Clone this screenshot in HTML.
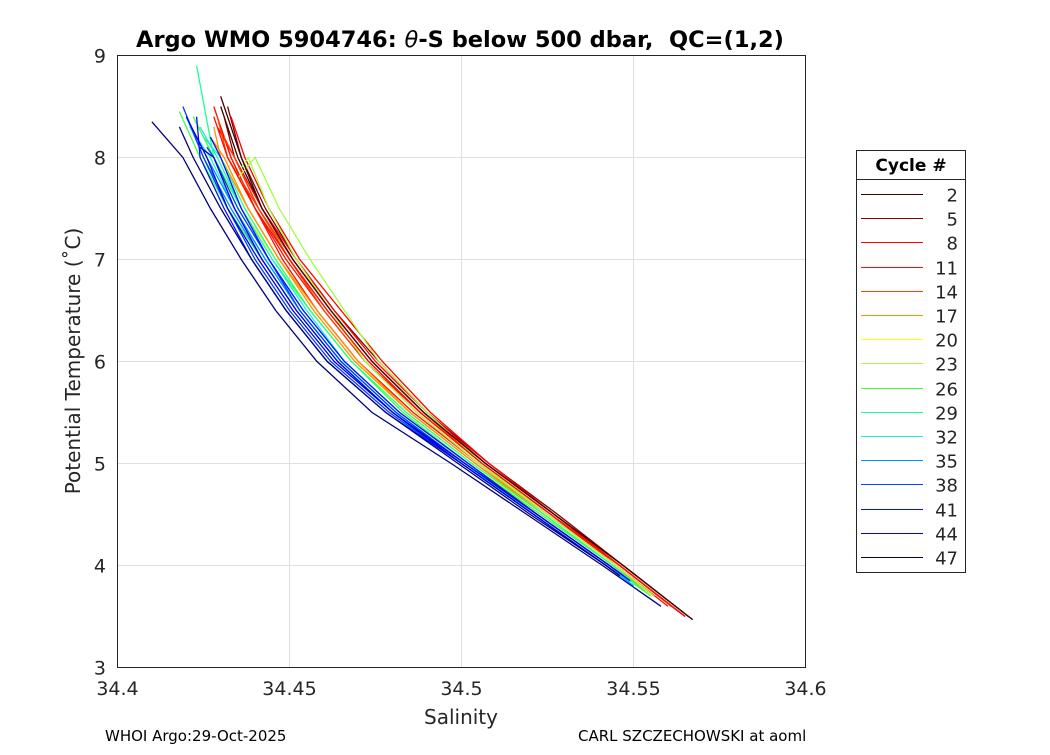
<!DOCTYPE html>
<html><head><meta charset="utf-8"><style>
body{margin:0;background:#fff;font-family:"Liberation Sans","DejaVu Sans",sans-serif;}
svg text{font-family:"DejaVu Sans","Liberation Sans",sans-serif;}
</style></head><body>
<svg id="chart" width="1050" height="750" viewBox="0 0 1050 750">
<rect width="1050" height="750" fill="#fff"/>
<g id="grid"></g>
<g id="lines"></g>
<rect x="117.5" y="55.5" width="688" height="612" fill="none" stroke="#262626" stroke-width="1"/>
<g id="axes"></g>
<text x="460" y="47" text-anchor="middle" font-size="22.5" font-weight="bold">Argo WMO 5904746: <tspan font-style="italic" font-weight="normal">θ</tspan>-S below 500 dbar, &#160;QC=(1,2)</text>
<text x="461" y="724" text-anchor="middle" font-size="20" fill="#262626">Salinity</text>
<text transform="translate(80,361) rotate(-90)" text-anchor="middle" font-size="20" fill="#262626">Potential Temperature (˚C)</text>
<text x="105" y="741" font-size="15">WHOI Argo:29-Oct-2025</text>
<text x="578" y="741" font-size="15">CARL SZCZECHOWSKI at aoml</text>
<g id="legend"></g>
</svg>
<script>
const xTicks=[34.4,34.45,34.5,34.55,34.6];
const xTickLabels=["34.4","34.45","34.5","34.55","34.6"];
const yTicks=[3,4,5,6,7,8,9];
const legendCycles=[2,5,8,11,14,17,20,23,26,29,32,35,38,41,44,47];
const legendColors=["#400000","#800000","#ff0000","#ff1000","#ff4000","#ff9000","#ffff00","#a0ff40","#40ff40","#20ff90","#20e8e8","#0090ff","#0040ff","#0010ff","#0000e0","#000080"];
const levels=[3.5,4,4.5,5,5.5,6,6.5,7,7.5,8];
const profileCycles=[2,4,5,7,8,10,11,13,14,16,17,20,22,23,25,26,28,29,31,32,34,35,37,38,40,41,43,44,46,47,3,12];
const profileSal=[
[34.566,34.547,34.527,34.507,34.489,34.474,34.462,34.451,34.442,34.435],
[34.565,34.546,34.526,34.506,34.488,34.473,34.461,34.450,34.441,34.434],
[34.566,34.547,34.528,34.508,34.490,34.476,34.463,34.452,34.443,34.436],
[34.565,34.546,34.527,34.507,34.490,34.475,34.463,34.452,34.442,34.434],
[34.565,34.546,34.527,34.508,34.491,34.477,34.465,34.453,34.444,34.437],
[34.564,34.545,34.526,34.506,34.488,34.472,34.460,34.449,34.440,34.433],
[34.565,34.546,34.525,34.505,34.486,34.470,34.458,34.448,34.440,34.433],
[34.564,34.545,34.525,34.505,34.487,34.472,34.460,34.450,34.441,34.434],
[34.565,34.546,34.526,34.506,34.489,34.474,34.462,34.451,34.441,34.432],
[34.564,34.545,34.525,34.504,34.485,34.469,34.457,34.447,34.438,34.431],
[34.564,34.544,34.524,34.504,34.485,34.470,34.458,34.447,34.438,34.430],
[34.563,34.544,34.523,34.503,34.484,34.468,34.456,34.446,34.436,34.428],
[34.564,34.545,34.525,34.505,34.487,34.472,34.462,34.452,34.444,34.438],
[34.564,34.545,34.525,34.506,34.490,34.476,34.466,34.456,34.447,34.440],
[34.563,34.544,34.523,34.502,34.483,34.468,34.456,34.445,34.436,34.428],
[34.563,34.543,34.522,34.501,34.480,34.464,34.452,34.442,34.432,34.424],
[34.563,34.544,34.524,34.503,34.484,34.468,34.456,34.446,34.437,34.430],
[34.563,34.543,34.522,34.502,34.482,34.466,34.454,34.444,34.435,34.428],
[34.562,34.543,34.522,34.502,34.482,34.466,34.455,34.445,34.436,34.429],
[34.562,34.542,34.521,34.501,34.481,34.465,34.453,34.443,34.434,34.427],
[34.563,34.543,34.522,34.501,34.481,34.465,34.453,34.443,34.434,34.426],
[34.562,34.542,34.521,34.500,34.480,34.464,34.452,34.442,34.433,34.425],
[34.563,34.543,34.522,34.501,34.481,34.465,34.453,34.444,34.435,34.428],
[34.562,34.542,34.521,34.500,34.479,34.462,34.450,34.440,34.432,34.425],
[34.563,34.543,34.522,34.502,34.482,34.466,34.454,34.444,34.436,34.430],
[34.562,34.542,34.521,34.500,34.478,34.461,34.449,34.439,34.431,34.424],
[34.563,34.543,34.522,34.501,34.480,34.464,34.452,34.442,34.434,34.428],
[34.562,34.542,34.521,34.500,34.480,34.463,34.451,34.441,34.432,34.426],
[34.562,34.542,34.520,34.499,34.478,34.461,34.449,34.439,34.430,34.422],
[34.562,34.541,34.519,34.497,34.474,34.458,34.446,34.436,34.427,34.419],
[34.566,34.547,34.527,34.507,34.489,34.474,34.462,34.451,34.442,34.436],
[34.565,34.546,34.526,34.506,34.488,34.473,34.461,34.450,34.440,34.432]];
const profileTopSal=[34.430,34.431,34.432,34.429,34.433,34.430,34.428,34.431,34.429,34.427,34.428,34.424,34.436,34.435,34.422,34.418,34.425,34.423,34.424,34.421,34.423,34.420,34.426,34.419,34.427,34.423,34.424,34.420,34.418,34.410,34.430,34.428];
const profileTopT=[8.5,8.4,8.5,8.3,8.4,8.3,8.5,8.2,8.4,8.2,8.3,8.0,7.9,7.8,8.4,8.45,8.2,8.9,8.3,8.3,8.2,8.4,8.1,8.5,8.2,8.4,8.1,8.4,8.3,8.35,8.6,8.4];
const profileBottomT=[3.47,3.5,3.5,3.6,3.5,3.6,3.55,3.7,3.6,3.7,3.7,3.7,3.75,3.7,3.7,3.75,3.8,3.8,3.8,3.8,3.85,3.8,3.85,3.9,3.85,3.9,3.9,3.9,3.9,3.6,3.47,3.55];

const X=s=>117.5+(s-34.4)/0.2*688;
const Y=t=>55.5+(9-t)/6*612;
const NS="http://www.w3.org/2000/svg";
function colorFor(c){let best=0;legendCycles.forEach((lc,i)=>{if(Math.abs(lc-c)<Math.abs(legendCycles[best]-c))best=i;});return legendColors[best];}
const grid=document.getElementById('grid'),axes=document.getElementById('axes');
xTicks.forEach((t,i)=>{
 const l=document.createElementNS(NS,'line');l.setAttribute('x1',X(t));l.setAttribute('x2',X(t));l.setAttribute('y1',55);l.setAttribute('y2',667);l.setAttribute('stroke','#dfdfdf');
 
 
 grid.appendChild(l);
 const tx=document.createElementNS(NS,'text');tx.setAttribute('x',X(t));tx.setAttribute('y',695);tx.setAttribute('text-anchor','middle');tx.setAttribute('font-size','19');tx.setAttribute('fill','#262626');tx.textContent=xTickLabels[i];
 
 
 axes.appendChild(tx);
});
yTicks.forEach(t=>{
 const l=document.createElementNS(NS,'line');l.setAttribute('x1',117);l.setAttribute('x2',805);l.setAttribute('y1',Y(t));l.setAttribute('y2',Y(t));l.setAttribute('stroke','#dfdfdf');
 
 
 grid.appendChild(l);
 const tx=document.createElementNS(NS,'text');tx.setAttribute('x',106);tx.setAttribute('y',Y(t)+7);tx.setAttribute('text-anchor','end');tx.setAttribute('font-size','19');tx.setAttribute('fill','#262626');tx.textContent=t;
 
 
 axes.appendChild(tx);
});
const lines=document.getElementById('lines');
profileSal.forEach((sal,i)=>{
 const pts=[];
 const bt=profileBottomT[i];
 pts.push([sal[0]+(3.5-bt)*0.04,bt]);
 levels.forEach((lv,k)=>{if(lv>=bt) pts.push([sal[k],lv]);});
 pts.push([profileTopSal[i],profileTopT[i]]);
 const p=document.createElementNS(NS,'polyline');
 p.setAttribute('points',pts.map(q=>X(q[0]).toFixed(1)+','+Y(q[1]).toFixed(1)).join(' '));
 p.setAttribute('fill','none');p.setAttribute('stroke',colorFor(profileCycles[i]));p.setAttribute('stroke-width','1.3');
 
 
 lines.appendChild(p);
});
const lg=document.getElementById('legend');
lg.innerHTML=`<rect x="856.5" y="150.5" width="109" height="422" fill="#fff" stroke="#262626"/><line x1="856" y1="179.5" x2="965" y2="179.5" stroke="#262626"/><text x="911" y="171" text-anchor="middle" font-size="17" font-weight="bold">Cycle #</text>`;
legendCycles.forEach((c,i)=>{
 const y=Math.round(194+i*24.2)+0.5;
 const l=document.createElementNS(NS,'line');l.setAttribute('x1',861);l.setAttribute('x2',923);l.setAttribute('y1',y);l.setAttribute('y2',y);l.setAttribute('stroke',legendColors[i]);l.setAttribute('shape-rendering','crispEdges');
 
 
 lg.appendChild(l);
 const t=document.createElementNS(NS,'text');t.setAttribute('x',958);t.setAttribute('y',y+7);t.setAttribute('text-anchor','end');t.setAttribute('font-size','18');t.setAttribute('fill','#262626');t.textContent=c;
 
 
 lg.appendChild(t);
});
</script>
</body></html>
